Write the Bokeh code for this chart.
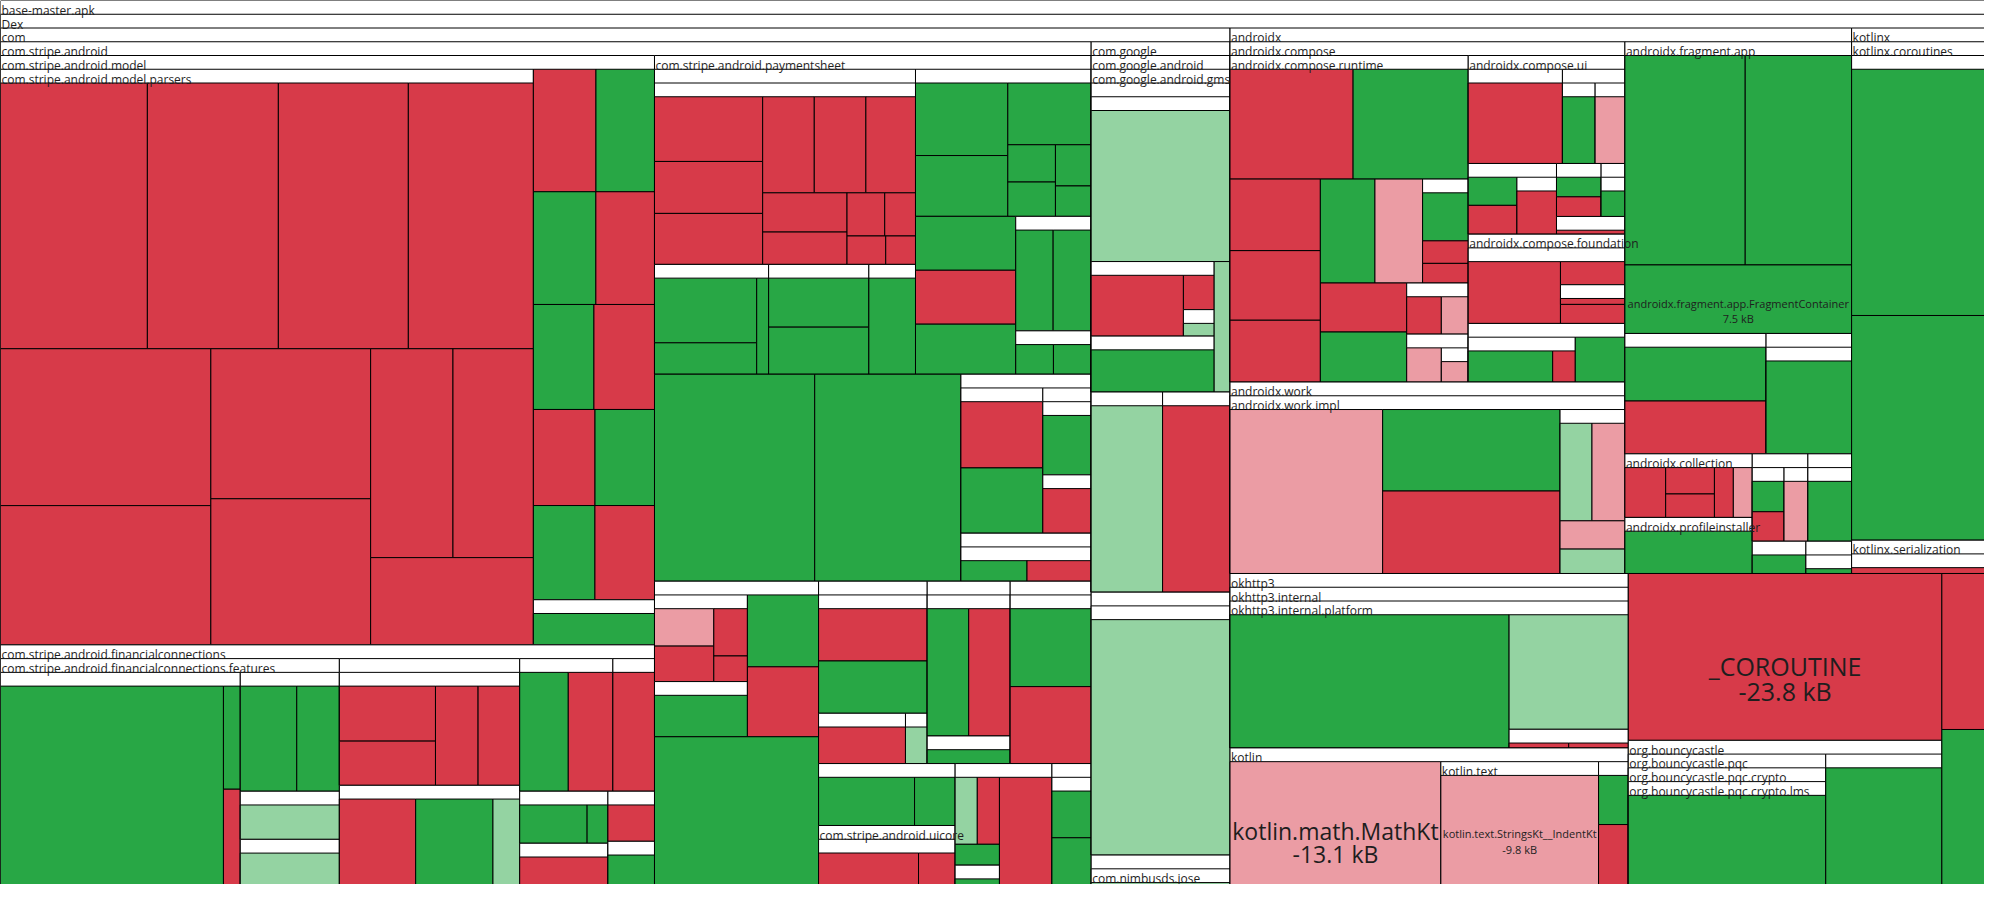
from bokeh.plotting import figure
from bokeh.models import Range1d
from bokeh.embed import file_html
from bokeh.resources import INLINE
from bokeh.core.properties import value

# ---------------- data ----------------
# path segments: plain name = package with labelled header, "~x" = package header without
# visible label, "+x" = grouping without header, "=Name" = named leaf (class)
ROOT = "base-master.apk"
S = "Dex|com|com.stripe.android"
MOD = S + "|com.stripe.android.model"
PAR = MOD + "|com.stripe.android.model.parsers"
FC = S + "|com.stripe.android.financialconnections"
FEAT = FC + "|com.stripe.android.financialconnections.features"
PS = S + "|com.stripe.android.paymentsheet"
LOW = S + "|+low"
REST = LOW + "|+rest"
GMS = "Dex|com|com.google|com.google.android|com.google.android.gms"
AX = "Dex|androidx"
CMP = AX + "|androidx.compose"
RT = CMP + "|androidx.compose.runtime"
UI = CMP + "|androidx.compose.ui"
CX = CMP + "|androidx.compose.foundation"
WK = AX + "|androidx.work|androidx.work.impl"
FA = AX + "|androidx.fragment.app"
KX = "Dex|kotlinx"
OK3 = "Dex|okhttp3|okhttp3.internal|okhttp3.internal.platform"
KT = "Dex|kotlin"
BC = "Dex|org.bouncycastle"

g_path = [
    PAR, MOD, MOD + "|~m",
    FEAT + "|~f1", FEAT + "|~f2", FEAT + "|~f2|~s1", FEAT + "|~f2|~s2",
    FC + "|~F2|~a", FC + "|~F2b", FC + "|~F3", FC + "|~F4",
    FC + "|~F5|+g", FC + "|~F5|~s", FC + "|~F6", FC + "|~F6|~s",
    PS + "|~A|~A1", PS + "|~A|~A2", PS + "|~A|~A3", PS + "|~A|~A4",
    PS + "|~B", PS, PS + "|~n", PS + "|~n|~s",
    LOW, LOW + "|~E|~E1", LOW + "|~E|~Er|~Er1", LOW + "|~E|~Er|~Er1|~Er2", LOW + "|~E|~E2|~E3",
    LOW + "|~L1|~L1a|+q", LOW + "|~L1|~L1a|~s", LOW + "|~L1|+b", LOW + "|~L1",
    REST + "|~L2|~L2a", REST + "|~L2|~L2a|+y", REST + "|~L2|~L2a|+y|+c|~s1",
    REST + "|~L2|~L2a|+y|+c|~s2",
    REST + "|~L3|~a", REST + "|~L3|~a|~s", REST + "|~L4|~a",
    REST + "|~L5|+g", REST + "|~L5|com.stripe.android.uicore|~s",
    REST + "|~L6|+g", REST + "|~L6|+g|~n", REST + "|~L6", REST + "|~L7|~s",
    GMS + "|~G1|~a", GMS + "|~G1|~b|+t", GMS + "|~G1|~b|+t|~s", GMS + "|~G1|~b|~s2",
    GMS + "|~G1", GMS + "|~G2a", GMS + "|~G2b",
    "Dex|com|~X|~X1", "Dex|com|~N|com.nimbusds.jose",
    RT, RT + "|~R8", RT, RT + "|~R11", RT + "|~R12", RT + "|~R12|~s",
    UI + "|~U1", UI + "|~U2|~a", UI + "|~U2|~b", UI + "|~U3", UI + "|~U3|~s",
    UI + "|~U4", UI + "|~U5|~s", UI + "|~U6",
    CX + "|~c1|+t", CX + "|~c1|+t|+u", CX + "|~c1|+t|+u|~s", CX + "|~c1|+t",
    CX + "|~c1|~c2|~c2a", CX + "|~c1|~c2",
    WK, WK + "|~W4",
    FA, FA + "|=androidx.fragment.app.FragmentContainer", FA + "|+g|~FA4", FA + "|+g|~FA5|~s",
    AX + "|androidx.collection", AX + "|androidx.profileinstaller",
    AX + "|~N1|~a", AX + "|~N1|~b", AX + "|~N2|~s", AX + "|~N3", AX + "|~N4|~s",
    KX + "|kotlinx.coroutines|~K1", KX + "|kotlinx.serialization|~s",
    OK3, OK3 + "|~s",
    KT + "|=kotlin.math.MathKt", KT + "|kotlin.text|=kotlin.text.StringsKt__IndentKt", KT + "|~t2",
    "Dex|=_COROUTINE",
    BC + "|org.bouncycastle.pqc|org.bouncycastle.pqc.crypto|org.bouncycastle.pqc.crypto.lms",
    BC + "|~b2",
    "Dex",
]

# R = removed (red), r = shrunk (light red), G = added (green), g = grown (light green)
g_kind = [
    "RRRRRRRRRRR", "RGGRGRRGGR", "G",
    "GGR", "GG", "g", "g",
    "RRRR", "RGg", "GR", "R",
    "GG", "R", "R", "G",
    "RRRRRRRRRRRR", "GGG", "GG", "G",
    "GGGGGGG", "GRG", "GG", "GG",
    "GG", "RG", "G", "R", "GR",
    "rRRR", "G", "GR", "G",
    "R", "G", "R",
    "g",
    "GR", "G", "GR",
    "GG", "RR",
    "gRG", "G", "R", "GG",
    "g", "RR", "g", "G",
    "g", "g", "R",
    "g", "g",
    "RGRRRGr", "GRR", "RG", "Rr", "r", "r",
    "R", "G", "r", "GR", "R",
    "GR", "G", "R",
    "R", "R", "R", "R",
    "GR", "G",
    "rGR", "grrg",
    "GG", "G", "GR", "G",
    "RRRRr", "G",
    "GR", "r", "G", "G", "G",
    "GG", "R",
    "Gg", "RR",
    "r", "r", "GR",
    "R",
    "G",
    "G",
    "RG",
]

# size change in bytes (absolute)
g_bytes = [
    [19240, 17160, 17030, 16380, 16270, 14440, 11820, 11510, 8480, 8280, 7000],
    [3690, 3450, 3390, 3180, 3060, 3060, 2850, 2750, 2790, 2700], [2630],
    [25111, 986, 911], [3370, 2542], [2707], [2541],
    [3367, 2705, 2692, 2629], [3774, 3823, 1323], [3211, 2948], [2752],
    [1510, 466], [2128], [990], [1177],
    [3896, 3128, 3069, 2760, 2760, 2653, 1841, 1519, 905, 739, 612, 471],
    [3888, 1885, 673], [2889, 2773], [2635],
    [3628, 3040, 2790, 962, 886, 797, 588], [2655, 2655, 2462], [2029, 2061], [880, 880],
    [15588, 14224], [3016, 2972], [1784], [1751], [1598, 1551],
    [1210, 1147, 866, 469], [2795], [2519, 2450], [11935],
    [3144], [3144], [2420],
    [605],
    [2922, 2922], [1268], [3494, 3449],
    [2453, 1037], [3127, 1146],
    [787, 787, 490], [455], [2984], [1115, 1115],
    [11970], [3280, 617], [476], [4020],
    [1083], [7143], [6746],
    [16881], [1890],
    [6862, 6419, 3282, 3192, 2833, 2881, 2514], [1283, 602, 524], [2149, 2192],
    [899, 698], [843], [654],
    [4676], [1624], [1477], [896, 917], [1473],
    [623, 623], [664], [637],
    [3405], [889], [758], [732],
    [2956, 791], [1737],
    [13638, 7879, 7974], [1852, 1910, 1091, 941],
    [12165, 10757], [7500], [4140, 4065], [4970],
    [1210, 766, 681, 561, 561], [3333],
    [659, 638], [972], [1782], [809], [689],
    [16165, 14748], [2069],
    [22142, 8135], [661, 661],
    [13100], [9800], [832, 1015],
    [23800],
    [12950],
    [7614],
    [3027, 3008],
]

COLORS = {"R": "#d73a49", "r": "#eb9ca4", "G": "#28a745", "g": "#94d3a2"}

# ---------------- hierarchy / layout settings ----------------
PW, PH = 1984, 884          # figure size in pixels
W, H = 2000.0, 900.0        # layout space
HEADER = 14
PHI = (1 + 5 ** 0.5) / 2
# squarify target ratio per grouping (default: golden ratio)
RATIOS = {"+low": 1.1, "~L1a": 1.2, "~L2a": 0.9, "+y": 3.0}


class Node:
    def __init__(self, name, leaf=False):
        self.name = name
        self.leaf = leaf
        self.children = []
        self.index = {}
        self.value = 0
        self.kind = None
        self.x0 = self.x1 = self.y0 = self.y1 = 0.0


assert len(g_path) == len(g_kind) == len(g_bytes)
root = Node(ROOT)
for path, kinds, vals in zip(g_path, g_kind, g_bytes):
    assert len(kinds) == len(vals), path
    segs = path.split("|")
    leafname = ""
    if segs[-1].startswith("="):
        leafname = segs[-1][1:]
        segs = segs[:-1]
    node = root
    for s in segs:
        if s not in node.index:
            c = Node(s)
            node.index[s] = c
            node.children.append(c)
        node = node.index[s]
    for k, v in zip(kinds, vals):
        lf = Node(leafname, leaf=True)
        lf.kind = k
        lf.value = v
        node.children.append(lf)


def total(n):
    if not n.leaf:
        n.value = sum(total(c) for c in n.children)
    return n.value


total(root)


def dice(nodes, x0, y0, x1, y1, tot):
    k = (x1 - x0) / tot if tot else 0
    for n in nodes:
        n.y0, n.y1 = y0, y1
        n.x0 = x0
        x0 += n.value * k
        n.x1 = x0


def slice_(nodes, x0, y0, x1, y1, tot):
    k = (y1 - y0) / tot if tot else 0
    for n in nodes:
        n.x0, n.x1 = x0, x1
        n.y0 = y0
        y0 += n.value * k
        n.y1 = y0


def squarify(nodes, val, x0, y0, x1, y1, ratio):
    i0 = i1 = 0
    n = len(nodes)
    while i0 < n:
        dx, dy = x1 - x0, y1 - y0
        if dx <= 0 or dy <= 0:
            for c in nodes[i0:]:
                c.x0, c.y0, c.x1, c.y1 = x0, y0, max(x0, x1), max(y0, y1)
            return
        sum_v = nodes[i1].value
        i1 += 1
        while not sum_v and i1 < n:
            sum_v = nodes[i1].value
            i1 += 1
        min_v = max_v = sum_v
        alpha = max(dy / dx, dx / dy) / (val * ratio)
        beta = sum_v * sum_v * alpha
        min_ratio = max(max_v / beta, beta / min_v)
        while i1 < n:
            nv = nodes[i1].value
            sum_v += nv
            min_v = min(min_v, nv)
            max_v = max(max_v, nv)
            beta = sum_v * sum_v * alpha
            new_ratio = max(max_v / beta, beta / min_v)
            if new_ratio > min_ratio:
                sum_v -= nv
                break
            min_ratio = new_ratio
            i1 += 1
        row = nodes[i0:i1]
        if dx < dy:
            ny = y0 + dy * sum_v / val if val else y1
            dice(row, x0, y0, x1, ny, sum_v)
            y0 = ny
        else:
            nx = x0 + dx * sum_v / val if val else x1
            slice_(row, x0, y0, nx, y1, sum_v)
            x0 = nx
        val -= sum_v
        i0 = i1


def layout(node):
    if node.leaf:
        return
    pad = 0 if node.name.startswith("+") else HEADER
    x0, y0, x1, y1 = node.x0, node.y0 + pad, node.x1, node.y1
    if y1 < y0:
        y0 = y1 = (node.y0 + node.y1) / 2
    squarify(node.children, node.value, x0, y0, x1, y1, RATIOS.get(node.name, PHI))
    for c in node.children:
        layout(c)


root.x0, root.y0, root.x1, root.y1 = 0.0, 0.0, W, H
layout(root)

# ---------------- collect marks ----------------
L, R_, T, B, F = [], [], [], [], []
hx, hy, ht = [], [], []
leaf_labels = []


def collect(n):
    if not n.name.startswith("+"):
        L.append(n.x0)
        R_.append(n.x1)
        T.append(n.y0)
        B.append(n.y1)
        F.append(COLORS[n.kind] if n.leaf else "white")
        if not n.leaf and not n.name.startswith("~"):
            hx.append(n.x0 + 1)
            hy.append(n.y0 + 10)
            ht.append(n.name)
    if n.leaf and n.name:
        leaf_labels.append(n)
    for c in n.children:
        collect(c)


collect(root)

EM = {'.': 0.27, ',': 0.27, '_': 0.47, '-': 0.32, ' ': 0.26,
      'a': 0.56, 'b': 0.61, 'c': 0.48, 'd': 0.61, 'e': 0.56, 'f': 0.34, 'g': 0.54,
      'h': 0.61, 'i': 0.26, 'j': 0.26, 'k': 0.52, 'l': 0.26, 'm': 0.93, 'n': 0.61,
      'o': 0.6, 'p': 0.61, 'q': 0.61, 'r': 0.41, 's': 0.48, 't': 0.35, 'u': 0.61,
      'v': 0.5, 'w': 0.78, 'x': 0.52, 'y': 0.5, 'z': 0.47,
      'I': 0.3, 'M': 0.9, 'O': 0.78, 'C': 0.63, 'E': 0.56, 'T': 0.56, 'K': 0.6,
      'R': 0.62, 'U': 0.73, 'N': 0.76, 'F': 0.53, 'S': 0.55}


def em_width(s):
    return sum(EM.get(ch, 0.65 if ch.isupper() else 0.57) for ch in s)


# ---------------- figure ----------------
p = figure(width=PW, height=PH, x_range=Range1d(0, W), y_range=Range1d(H, 0),
           output_backend="svg", toolbar_location=None, min_border=0,
           x_axis_location=None, y_axis_location=None)
p.grid.visible = False
p.outline_line_color = None
p.background_fill_color = "white"
p.border_fill_color = "white"

p.quad(left=L, right=R_, top=T, bottom=B, fill_color=F, line_color="black", line_width=1)

p.text(x=hx, y=hy, text=ht, text_font=value("Open Sans"), text_font_size="12px",
       text_baseline="alphabetic", text_align="left", text_color="#1e1e1e")

for n in leaf_labels:
    w = n.x1 - n.x0
    fs = min(25.0, 0.97 * w / em_width(n.name))
    if fs < 8:
        continue
    cx = (n.x0 + n.x1) / 2
    cy = (n.y0 + n.y1) / 2
    sign = "-" if n.kind in "Rr" else ""
    size_txt = f"{sign}{n.value / 1000:.1f} kB"
    b1 = cy + 0.36 * fs
    b2 = b1 + max(16.0, 1.02 * fs)
    p.text(x=[cx, cx], y=[b1, b2], text=[n.name, size_txt], text_font=value("Open Sans"),
           text_font_size=f"{fs:.1f}px", text_baseline="alphabetic", text_align="center",
           text_color="#1e1e1e")

open("out.html", "w").write(file_html(p, INLINE))
